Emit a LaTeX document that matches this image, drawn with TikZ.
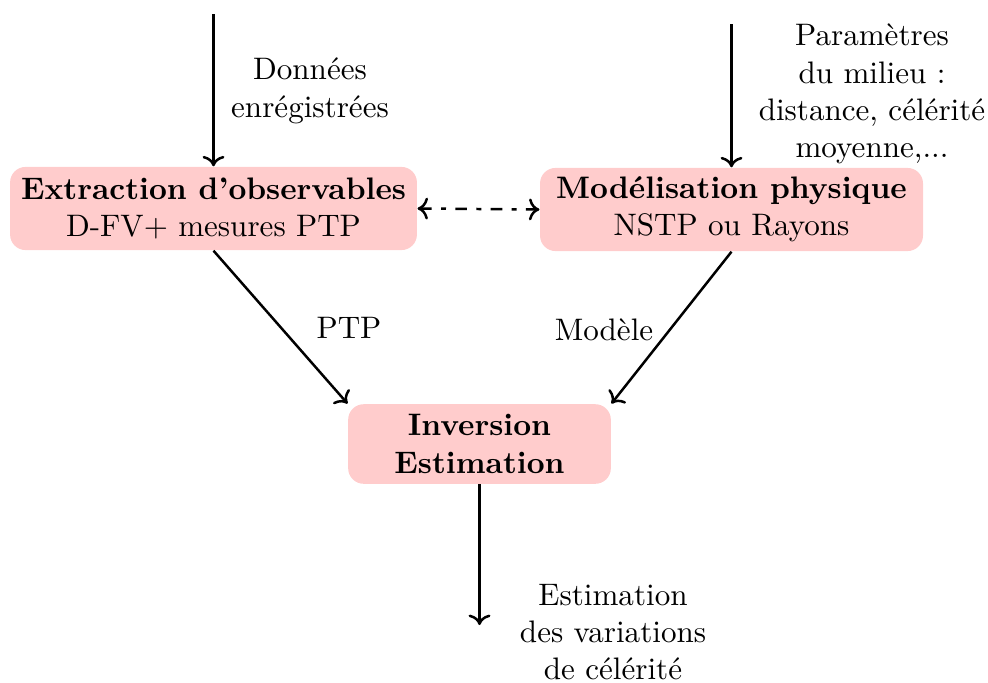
\documentclass[tikz,border=0pt]{standalone}
\usetikzlibrary{arrows.meta}
\begin{document}
\begin{tikzpicture}[x=0.0113cm,y=-0.0113cm,
  box/.style={fill=red!20, rounded corners=5pt, align=center, minimum height=0.94cm, inner sep=2pt},
  lbl/.style={align=center},
  conn/.style={thick,->}]
\useasboundingbox (0,0) rectangle (988,682);
\node[box, minimum width=4.6cm] (ext) at (213.5,208.5) {\textbf{Extraction d'observables}\\D-FV+ mesures PTP};
\node[box, minimum width=4.33cm] (mod) at (731.5,209.5) {\textbf{Modélisation physique}\\NSTP ou Rayons};
\node[box, minimum width=2.97cm, minimum height=0.9cm] (inv) at (479.5,444) {\textbf{Inversion}\\\textbf{Estimation}};
\coordinate (in1) at (213.5,14);
\coordinate (in2) at (731.5,24);
\coordinate (out) at (479.5,625);
\node[lbl] (l1) at (310,91) {Données\\enrégistrées};
\node[lbl] (l2) at (872,94) {Paramètres\\du milieu :\\distance, célérité\\moyenne,...};
\node[lbl] (l3) at (349,328) {PTP};
\node[lbl] (l4) at (604,330) {Modèle};
\node[lbl] (l5) at (613,632) {Estimation\\des variations\\de célérité};
\draw[conn] (in1) -- (ext.north);
\draw[conn] (in2) -- (mod.north);
\draw[conn] (ext.south) -- (inv.north west);
\draw[conn] (mod.south) -- (inv.north east);
\draw[conn] (inv.south) -- (out);
\draw[thick,<->,dash pattern=on 3.75pt off 3pt on 1.6pt off 3pt] (ext.east) -- (mod.west);
\end{tikzpicture}
\end{document}
